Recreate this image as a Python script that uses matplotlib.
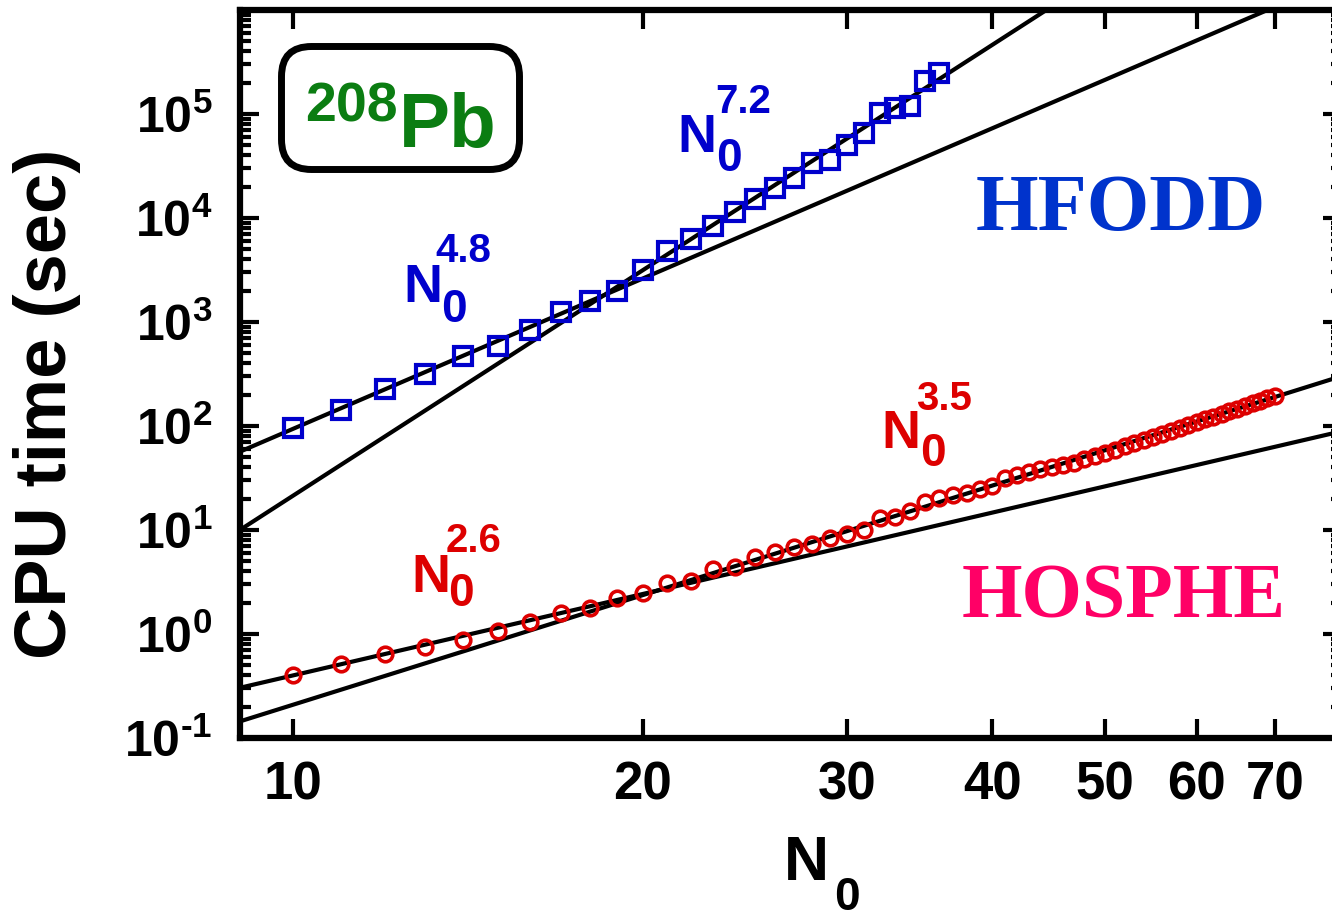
import matplotlib
matplotlib.use('Agg')
import matplotlib.pyplot as plt
import numpy as np
from matplotlib.patches import FancyBboxPatch
from matplotlib.transforms import IdentityTransform
from matplotlib.ticker import FixedLocator, NullLocator, LogLocator, NullFormatter

plt.rcParams['font.family'] = ['Liberation Sans', 'DejaVu Sans']
plt.rcParams['mathtext.fontset'] = 'custom'
plt.rcParams['mathtext.rm'] = 'Liberation Sans:bold'
plt.rcParams['mathtext.bf'] = 'Liberation Sans:bold'
plt.rcParams['mathtext.default'] = 'bf'

W, H = 1332, 918

# ---- data ----
n0_hfodd = list(range(10, 37))
cpu_hfodd = [95.7, 143, 227, 316, 471, 588, 838, 1250, 1590, 1990,
             3160, 4820, 6290, 8380, 11400, 15200, 19400, 24300, 33800, 36100,
             50300, 65600, 102000, 114000, 119000, 208000, 248000]

n0_hosphe = list(range(10, 71))
cpu_hosphe = [0.404, 0.515, 0.643, 0.750, 0.875, 1.07, 1.30, 1.59, 1.78, 2.22,
              2.48, 3.09, 3.23, 4.22, 4.41, 5.50, 6.14, 6.87, 7.33, 8.37,
              9.16, 10.0, 13.0, 13.3, 15.2, 18.6, 20.3, 21.7, 22.7, 24.8,
              26.5, 31.6, 33.8, 36.1, 38.6, 40.3, 42.2, 44.1, 48.2, 51.5,
              55.0, 59.3, 63.7, 68.7, 73.3, 78.4, 83.8, 89.5, 95.7, 102,
              109, 117, 123, 130, 139, 147, 156, 165, 174, 184,
              194]

# power-law guide lines: value at N0 = 10 and exponent
fit_exponents = [4.8, 7.2, 2.6, 3.5]
fit_prefactors = [94.0, 21.4, 0.40, 0.209]

xticks = [10, 20, 30, 40, 50, 60, 70]
xtick_labels = ['10', '20', '30', '40', '50', '60', '70']
yticks = [1e-1, 1e0, 1e1, 1e2, 1e3, 1e4, 1e5]
ytick_labels = [r'$10^{\text{-}1}$', r'$10^{0}$', r'$10^{1}$', r'$10^{2}$',
                r'$10^{3}$', r'$10^{4}$', r'$10^{5}$']

XMIN, XMAX = 9, 80
YMIN, YMAX = 1e-1, 1e6

fig = plt.figure(figsize=(W / 100, H / 100), dpi=100)
ax = fig.add_axes([240 / W, 180 / H, 1102 / W, 728 / H])
ax.set_xscale('log')
ax.set_yscale('log')

xl = np.array([XMIN, XMAX], dtype=float)
for a, p in zip(fit_prefactors, fit_exponents):
    ax.plot(xl, a * (xl / 10.0) ** p, color='black', lw=3.0, zorder=2,
            solid_capstyle='butt')

ax.plot(n0_hfodd, cpu_hfodd, ls='none', marker='s', ms=13.5, mfc='none',
        mec='#0000CC', mew=3.0, zorder=3)
ax.plot(n0_hosphe, cpu_hosphe, ls='none', marker='o', ms=10.5, mfc='none',
        mec='#DD0000', mew=2.6, zorder=3)

ax.set_xlim(XMIN, XMAX)
ax.set_ylim(YMIN, YMAX)

ax.xaxis.set_major_locator(FixedLocator(xticks))
ax.xaxis.set_minor_locator(NullLocator())
ax.set_xticklabels(xtick_labels)
ax.yaxis.set_major_locator(FixedLocator(yticks))
ax.set_yticklabels(ytick_labels)
ax.yaxis.set_minor_locator(LogLocator(base=10, subs=np.arange(2, 10), numticks=30))
ax.yaxis.set_minor_formatter(NullFormatter())

for s in ax.spines.values():
    s.set_linewidth(4.5)
ax.tick_params(which='both', direction='in', top=True, right=True, width=3)
ax.tick_params(which='major', length=14)
ax.tick_params(which='minor', length=8)
ax.tick_params(axis='x', labelsize=38, pad=16)
ax.tick_params(axis='y', labelsize=36, pad=20)
for lbl in ax.get_xticklabels():
    lbl.set_fontweight('bold')


def ftext(x, y, s, **kw):
    fig.text(x / W, 1 - y / H, s, **kw)


# axis labels
ftext(47, 404, 'CPU time (sec)', rotation=90, ha='center', va='center',
      fontsize=52, fontweight='bold')
ftext(784, 880, 'N', ha='left', va='baseline', fontsize=45, fontweight='bold')
ftext(834, 910, '0', ha='left', va='baseline', fontsize=33, fontweight='bold')

# exponent annotations
blue = '#0000CC'
red = '#DD0000'
groups = [  # (N left, N baseline, sub left, sub baseline, sup left, sup baseline, text, color)
    (403, 302, 441, 322, 435, 262, '4.8', blue),
    (677, 152, 716, 171, 715, 113, '7.2', blue),
    (411, 592, 448, 606, 446, 552, '2.6', red),
    (881, 448, 920, 466, 916, 410, '3.5', red),
]
for nx, ny, sx, sy, ex, ey, txt, c in groups:
    ftext(nx, ny, 'N', ha='left', va='baseline', fontsize=39, fontweight='bold', color=c)
    ftext(sx, sy, '0', ha='left', va='baseline', fontsize=33, fontweight='bold', color=c)
    ftext(ex, ey, txt, ha='left', va='baseline', fontsize=29, fontweight='bold', color=c)

# code names
ftext(976, 230, 'HFODD', ha='left', va='baseline', fontsize=58, fontweight='bold',
      family='Liberation Serif', color='#0033CC')
ftext(962, 618, 'HOSPHE', ha='left', va='baseline', fontsize=56, fontweight='bold',
      family='Liberation Serif', color='#FF0066')

# 208Pb box
box = FancyBboxPatch((281.5, H - 169.5), 238, 123,
                     boxstyle='round,pad=0,rounding_size=30',
                     transform=IdentityTransform(), facecolor='white',
                     edgecolor='black', lw=5.0, zorder=5)
fig.add_artist(box)
green = '#0B7D12'
ftext(305, 122, '208', ha='left', va='baseline', fontsize=40, fontweight='bold',
      color=green, zorder=6)
ftext(399, 147, 'Pb', ha='left', va='baseline', fontsize=55, fontweight='bold',
      color=green, zorder=6)

fig.savefig('out.png', dpi=100)
